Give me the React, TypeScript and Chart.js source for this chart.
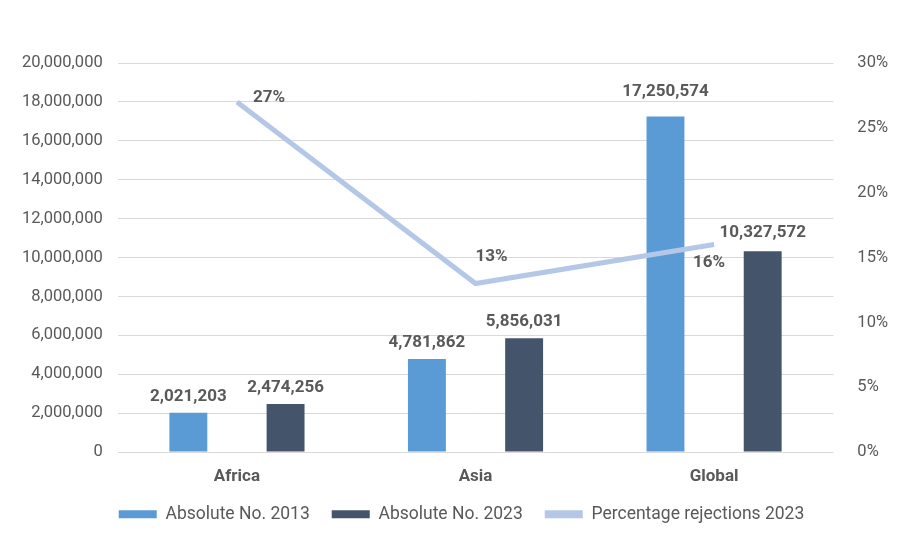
import React, { useEffect, useRef } from "react";
import { Chart, registerables } from "chart.js";

Chart.register(...registerables);

const categories = ["Africa", "Asia", "Global"];
const absolute2013 = [2021203, 4781862, 17250574];
const absolute2023 = [2474256, 5856031, 10327572];
const rejections2023 = [27, 13, 16];
const leftTicks = [0, 2000000, 4000000, 6000000, 8000000, 10000000, 12000000, 14000000, 16000000, 18000000, 20000000];
const rightTicks = [0, 5, 10, 15, 20, 25, 30];

const TEXT = "#595959";
const FONT = "Roboto";

const barLabelOffsets = [
  [-12, -12, -20],
  [-12, -12, -14],
];
const lineLabelOffsets = [
  [32, -4],
  [16, -27],
  [-5, 18],
];
const LEGEND_SHIFT_Y = -9;
const LEGEND_SHIFT_X = 6;

const labelPlugin = {
  id: "valueLabels",
  afterLayout(chart: any) {
    if (chart.legend) {
      chart.legend.top += LEGEND_SHIFT_Y;
      chart.legend.bottom += LEGEND_SHIFT_Y;
      chart.legend.left += LEGEND_SHIFT_X;
      chart.legend.right += LEGEND_SHIFT_X;
    }
  },
  afterDatasetsDraw(chart: any) {
    const ctx = chart.ctx;
    ctx.save();
    ctx.fillStyle = TEXT;
    ctx.font = `bold 17px ${FONT}`;
    ctx.textAlign = "center";
    ctx.textBaseline = "alphabetic";
    [0, 1].forEach((di) => {
      const meta = chart.getDatasetMeta(di);
      const data = chart.data.datasets[di].data as number[];
      meta.data.forEach((el: any, i: number) => {
        ctx.fillText(data[i].toLocaleString("en-US"), el.x, el.y + barLabelOffsets[di][i]);
      });
    });
    const lm = chart.getDatasetMeta(2);
    ctx.textBaseline = "middle";
    lm.data.forEach((el: any, i: number) => {
      ctx.fillText(rejections2023[i] + "%", el.x + lineLabelOffsets[i][0], el.y + lineLabelOffsets[i][1]);
    });
    ctx.restore();
  },
};

export default function App() {
  const ref = useRef<HTMLCanvasElement>(null);
  useEffect(() => {
    document.body.style.margin = "0";
    const chart = new Chart(ref.current!, {
      type: "bar",
      data: {
        labels: categories,
        datasets: [
          {
            type: "bar",
            label: "Absolute No. 2013",
            data: absolute2013,
            backgroundColor: "#5B9BD5",
            borderWidth: 0,
            categoryPercentage: 0.815,
            barPercentage: 0.39,
            yAxisID: "y",
            order: 2,
          },
          {
            type: "bar",
            label: "Absolute No. 2023",
            data: absolute2023,
            backgroundColor: "#44546A",
            borderWidth: 0,
            categoryPercentage: 0.815,
            barPercentage: 0.39,
            yAxisID: "y",
            order: 2,
          },
          {
            type: "line",
            label: "Percentage rejections 2023",
            data: rejections2023,
            borderColor: "#B4C7E7",
            backgroundColor: "#B4C7E7",
            borderWidth: 5,
            pointRadius: 0,
            tension: 0,
            yAxisID: "y1",
            order: 1,
          } as any,
        ],
      },
      options: {
        animation: false,
        responsive: false,
        maintainAspectRatio: false,
        layout: { padding: { top: 63, left: 7, right: 1, bottom: 18 } },
        plugins: {
          tooltip: { enabled: false },
          legend: {
            position: "bottom",
            labels: {
              color: TEXT,
              font: { family: FONT, size: 17.5 },
              boxWidth: 38,
              boxHeight: 8,
              padding: 22,
              generateLabels: (c: any) =>
                c.data.datasets.map((d: any, i: number) => ({
                  text: d.label,
                  fillStyle: i === 2 ? "#B4C7E7" : d.backgroundColor,
                  strokeStyle: i === 2 ? "#B4C7E7" : d.backgroundColor,
                  lineWidth: 0,
                  hidden: false,
                  datasetIndex: i,
                  fontColor: TEXT,
                })),
            },
          },
        },
        scales: {
          x: {
            grid: { display: false },
            border: { display: false },
            ticks: { color: TEXT, font: { family: FONT, size: 17, weight: "bold" }, padding: 6 },
          },
          y: {
            position: "left",
            min: 0,
            max: 20000000,
            afterBuildTicks: (s: any) => {
              s.ticks = leftTicks.map((v) => ({ value: v }));
            },
            grid: { color: "#d9d9d9", drawTicks: false },
            border: { display: false },
            ticks: {
              color: TEXT,
              font: { family: FONT, size: 16.5 },
              padding: 15,
              callback: (v: any) => Number(v).toLocaleString("en-US"),
            },
          },
          y1: {
            position: "right",
            min: 0,
            max: 30,
            afterBuildTicks: (s: any) => {
              s.ticks = rightTicks.map((v) => ({ value: v }));
            },
            grid: { display: false },
            border: { display: false },
            ticks: {
              color: TEXT,
              font: { family: FONT, size: 16.5 },
              padding: 16,
              callback: (v: any) => v + "%",
            },
          },
        },
      },
      plugins: [labelPlugin],
    });
    return () => chart.destroy();
  }, []);
  return <canvas ref={ref} width={905} height={560} style={{ display: "block" }} />;
}
